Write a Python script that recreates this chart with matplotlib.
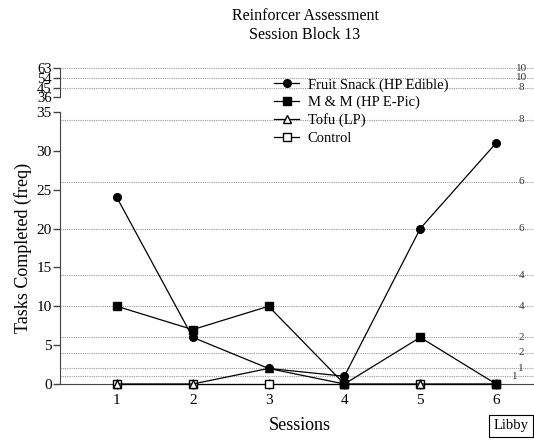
import matplotlib.pyplot as plt
from matplotlib.transforms import blended_transform_factory

plt.rcParams['font.family'] = ['Liberation Serif', 'DejaVu Serif']

# sessions and task counts per reinforcer
sessions = [1, 2, 3, 4, 5, 6]
fruit_snack = [24, 6, 2, 1, 20, 31]
m_and_m = [10, 7, 10, 0, 6, 0]
tofu = [0, 0, 2, 0, 0, 0]
control = [0, 0, 0, 0, 0, 0]

# reference lines (value, right-hand label)
upper_grid = [63, 54, 45]
upper_grid_labels = ['10', '10', '8']
lower_grid = [34, 26, 20, 14, 10, 6, 4, 2, 1]
lower_grid_labels = ['8', '6', '6', '4', '4', '2', '2', '1', '1']

upper_ticks = [36, 45, 54, 63]
lower_ticks = [0, 5, 10, 15, 20, 25, 30, 35]

W, H = 534, 447
fig = plt.figure(figsize=(W / 100, H / 100), dpi=100)

x0, x1 = 60, 534
ax = fig.add_axes([x0 / W, (H - 384) / H, (x1 - x0) / W, (384 - 112) / H])
ax_top = fig.add_axes([x0 / W, (H - 97.3) / H, (x1 - x0) / W, (97.3 - 68.3) / H])

spine_col = '#444444'
grid_kw = dict(color='#999999', linestyle=(0, (1, 1)), linewidth=0.8, zorder=0)

for a in (ax, ax_top):
    a.set_xlim(0.25, 6.5)
    for s in ('top', 'right'):
        a.spines[s].set_visible(False)
    a.spines['left'].set_color(spine_col)
    a.tick_params(axis='y', direction='out', length=5, width=1, color=spine_col,
                  labelsize=11, pad=1)

ax_top.spines['bottom'].set_visible(False)
ax_top.set_xticks([])
ax_top.set_ylim(36, 63)
ax_top.set_yticks(upper_ticks)
ax_top.tick_params(axis='y', labelsize=10.5)
ax_top.patch.set_alpha(0)

ax.spines['bottom'].set_color(spine_col)
ax.set_ylim(0, 35)
ax.set_yticks(lower_ticks)
ax.set_xticks(sessions)
ax.tick_params(axis='x', direction='inout', length=7, width=1, color='black',
               labelsize=11, pad=4)

# reference lines with their labels on the right
tr = blended_transform_factory(ax.transAxes, ax.transData)
for i, (v, lab) in enumerate(zip(lower_grid, lower_grid_labels)):
    ax.axhline(v, **grid_kw)
    xpos = 0.96 if i == len(lower_grid) - 1 else 0.973
    ax.text(xpos, v, lab, transform=tr, ha='center', va='center', fontsize=8,
            color='#333333', zorder=1)
tr_top = blended_transform_factory(ax_top.transAxes, ax_top.transData)
for v, lab in zip(upper_grid, upper_grid_labels):
    ax_top.axhline(v, **grid_kw)
    ax_top.text(0.973, v, lab, transform=tr_top, ha='center', va='center',
                fontsize=8, color='#333333', zorder=1)

line_kw = dict(color='black', linewidth=0.9, clip_on=False)
h1, = ax.plot(sessions, fruit_snack, marker='o', markersize=5.5,
              markerfacecolor='black', label='Fruit Snack (HP Edible)', zorder=5, **line_kw)
h2, = ax.plot(sessions, m_and_m, marker='s', markersize=6,
              markerfacecolor='black', label='M & M (HP E-Pic)', zorder=6, **line_kw)
h3, = ax.plot(sessions, tofu, marker='^', markersize=5.5, markerfacecolor='white',
              markeredgecolor='black', label='Tofu (LP)', zorder=4, **line_kw)
h4, = ax.plot(sessions, control, marker='s', markersize=5.5, markerfacecolor='white',
              markeredgecolor='black', label='Control', zorder=3, **line_kw)

fig.legend(handles=[h1, h2, h3, h4], loc='upper left',
           bbox_to_anchor=(267 / W, 1 - 71 / H), frameon=False, fontsize=10.5,
           handlelength=1.7, handletextpad=0.6, labelspacing=0.28,
           borderpad=0)

fig.text(305 / W, 1 - 16 / H, 'Reinforcer Assessment', ha='center', va='center',
         fontsize=11.5)
fig.text(305 / W, 1 - 35 / H, 'Session Block 13', ha='center', va='center',
         fontsize=11.5)

fig.text(23 / W, 1 - 248 / H, 'Tasks Completed (freq)', rotation=90,
         ha='center', va='center', fontsize=13)
fig.text(300 / W, 1 - 425 / H, 'Sessions', ha='center', va='center', fontsize=13)

fig.text(511 / W, 1 - 426 / H, 'Libby', ha='center', va='center', fontsize=10.5,
         bbox=dict(boxstyle='square,pad=0.3', facecolor='white', edgecolor='black',
                   linewidth=0.8))

fig.savefig('out.png', dpi=100)
